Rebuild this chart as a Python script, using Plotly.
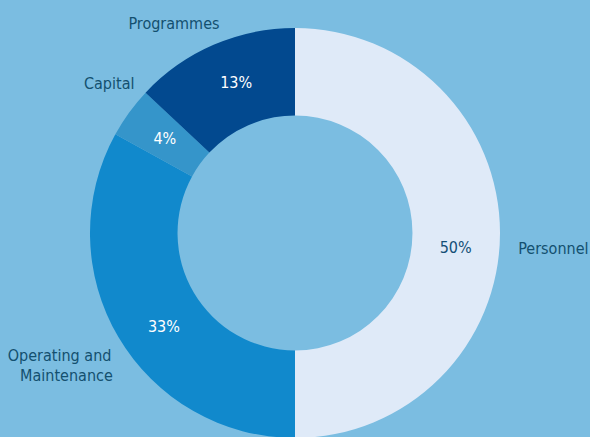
import plotly.graph_objects as go

categories = ["Personnel", "Operating and<br>\u00a0\u00a0\u00a0Maintenance", "Capital", "Programmes"]
values = [50, 33, 4, 13]
colors = ["#dfeaf8", "#1189cc", "#3595ca", "#02498f"]
pct_colors = ["#144f76", "white", "white", "white"]

bg = "#7bbde1"
label_color = "#13506f"
font_family = "DejaVu Sans Condensed, Liberation Sans Narrow, Roboto, sans-serif"

# figure taller than the window: the chart is cropped at the bottom like the reference
FIG_W, FIG_H = 590, 480
PIE_DOMAIN = dict(x=[0, 1], y=[0.0875, 0.9417])
SMALL_DOMAIN = dict(x=[0, 1], y=[0.1375, 0.8917])
LABEL_DOMAIN = dict(x=[0, 1], y=[0.0708, 0.9583])
WIDE_LABEL_DOMAIN = dict(x=[0, 1], y=[0.0583, 0.9708])
HOLE = 0.573
CLEAR = ["rgba(0,0,0,0)"] * len(values)

pct_text = [f"{v}%" for v in values]


def only(texts, keep):
    return [t if i in keep else "" for i, t in enumerate(texts)]


common = dict(labels=categories, values=values, sort=False, direction="clockwise",
              automargin=False, showlegend=False)

fig = go.Figure()
# coloured ring
fig.add_trace(go.Pie(**common, rotation=0, hole=HOLE, domain=PIE_DOMAIN,
                     marker=dict(colors=colors, line=dict(width=0)),
                     textinfo="none", hovertemplate="%{label}: %{value}%<extra></extra>"))
# percentage labels
for keep, rot, dom in (({0}, 5, PIE_DOMAIN), ({3}, 2, PIE_DOMAIN),
                       ({1}, -5, PIE_DOMAIN), ({2}, 0, SMALL_DOMAIN)):
    fig.add_trace(go.Pie(**common, rotation=rot, hole=HOLE, domain=dom,
                         marker=dict(colors=CLEAR, line=dict(width=0)),
                         text=only(pct_text, keep), textinfo="text", textposition="inside",
                         insidetextorientation="horizontal", hoverinfo="skip",
                         textfont=dict(family=font_family, size=16, color=pct_colors)))
# category labels outside the ring
for keep, rot, dom in (({0}, 4, WIDE_LABEL_DOMAIN), ({3}, 4, LABEL_DOMAIN),
                       ({2}, 7, LABEL_DOMAIN), ({1}, -5.5, LABEL_DOMAIN)):
    fig.add_trace(go.Pie(**common, rotation=rot, hole=0.6, domain=dom,
                         marker=dict(colors=CLEAR, line=dict(width=0)),
                         text=only(categories, keep), textinfo="text", textposition="outside",
                         hoverinfo="skip",
                         outsidetextfont=dict(family=font_family, size=16, color=label_color)))

fig.update_layout(
    width=FIG_W, height=FIG_H, margin=dict(l=0, r=0, t=0, b=0, pad=0),
    paper_bgcolor=bg, plot_bgcolor=bg,
)
fig.write_html(
    "out.html",
    config={"displayModeBar": False},
    post_script="document.body.style.margin='0';document.body.style.padding='0';"
                "document.body.style.overflow='hidden';document.body.style.background='%s';" % bg,
)
